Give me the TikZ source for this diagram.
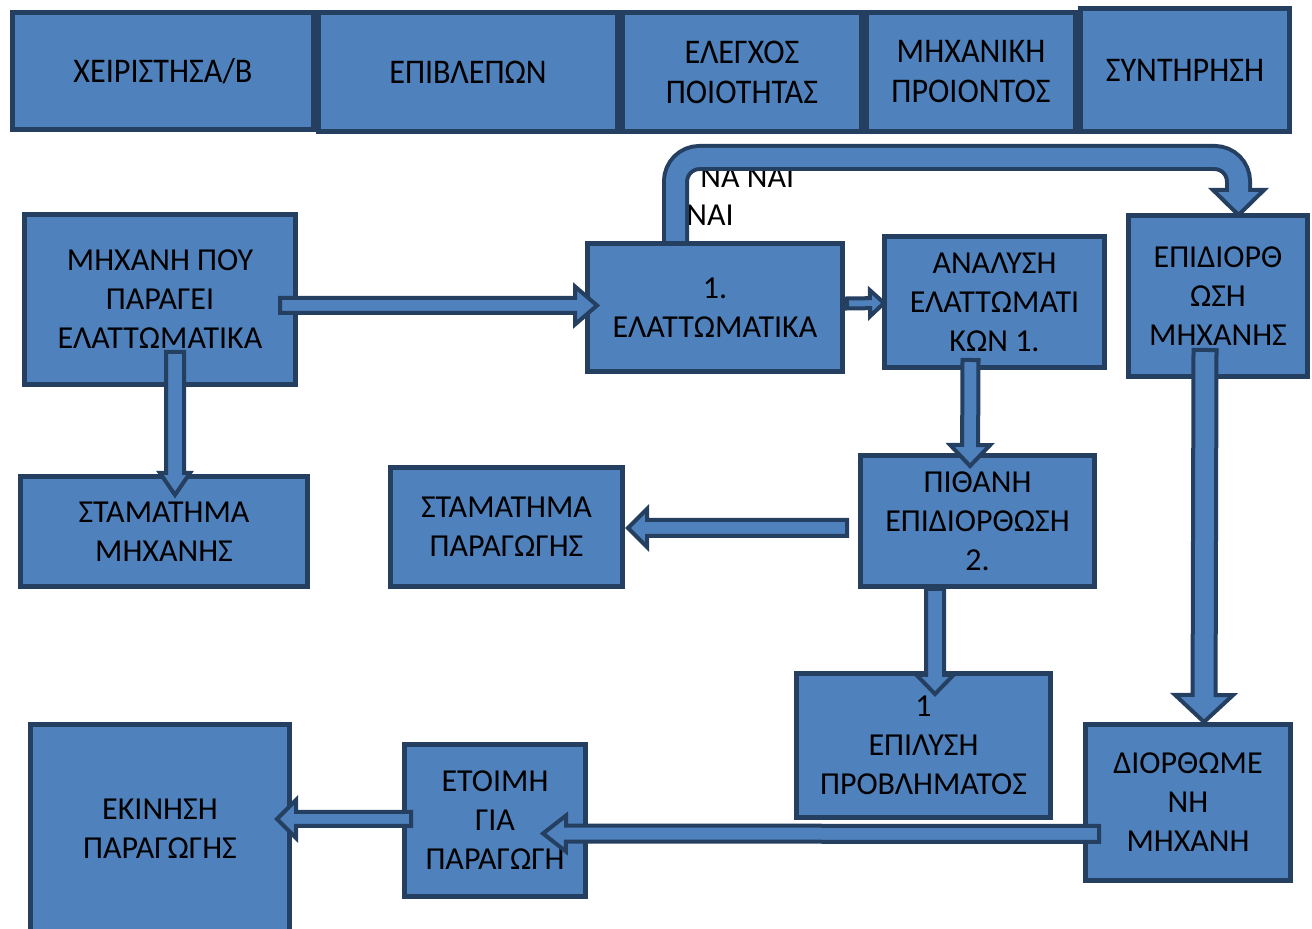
\documentclass[tikz,border=0pt]{standalone}
\usepackage{fontspec}
\setmainfont{Carlito}
\newfontfamily\headfont[FakeStretch=0.93]{Carlito}
\usetikzlibrary{calc}
\definecolor{boxfill}{HTML}{4F81BD}
\definecolor{boxline}{HTML}{243F60}
\tikzset{
  box/.style={draw=boxline, fill=boxfill, line width=2.5pt, inner sep=0pt,
    align=center, text=black, font=\fontsize{16}{19.5}\selectfont},
  headbox/.style={box, font=\headfont\fontsize{17.3}{20}\selectfont},
  % outer edges: left, top, right, bottom
  place/.style n args={4}{minimum width={(#3-#1-5)*0.5pt},
    minimum height={(#4-#2-5)*0.5pt}, at={({(#1+#3)/2},{(#2+#4)/2})}},
  blockarrow/.style={draw=boxline, fill=boxfill, line width=2pt, line join=miter},
  label/.style={font=\fontsize{16}{19.5}\selectfont, inner sep=0pt, anchor=base west},
}
% wide outlined arrow: start, tip, half shaft, half head, head length
\newcommand\blockarrow[5]{%
  \path #1 coordinate (ba-s) #2 coordinate (ba-t);
  \path ($(ba-t)!#5!(ba-s)$) coordinate (ba-h);
  \draw[blockarrow] ($(ba-s)!#3!90:(ba-t)$) -- ($(ba-h)!#3!90:(ba-t)$)
    -- ($(ba-h)!#4!90:(ba-t)$) -- (ba-t) -- ($(ba-h)!#4!-90:(ba-t)$)
    -- ($(ba-h)!#3!-90:(ba-t)$) -- ($(ba-s)!#3!-90:(ba-t)$) -- cycle;}
\begin{document}
\begin{tikzpicture}[x=0.5pt, y=-0.5pt]
\useasboundingbox (0,0) rectangle (1312,929);

% header row
\node[headbox, place={10}{10}{316}{132}] (h1) {ΧΕΙΡΙΣΤΗΣΑ/Β};
\node[headbox, place={316}{10}{620}{134}] (h2) {ΕΠΙΒΛΕΠΩΝ};
\node[headbox, place={620}{10}{864}{134}] (h3) {ΕΛΕΓΧΟΣ\\ΠΟΙΟΤΗΤΑΣ};
\node[headbox, place={864}{10}{1078}{134}] (h4) {ΜΗΧΑΝΙΚΗ\\ΠΡΟΙΟΝΤΟΣ};
\node[headbox, place={1078}{6}{1292}{134}] (h5) {ΣΥΝΤΗΡΗΣΗ};

% process steps
\node[box, place={22}{212}{298}{387}] (m) {ΜΗΧΑΝΗ ΠΟΥ\\ΠΑΡΑΓΕΙ\\ΕΛΑΤΤΩΜΑΤΙΚΑ};
\node[box, place={18}{474}{310}{589}] (sm) {ΣΤΑΜΑΤΗΜΑ\\ΜΗΧΑΝΗΣ};
\node[box, place={585}{241}{845}{374}] (e1) {1.\\ΕΛΑΤΤΩΜΑΤΙΚΑ};
\node[box, place={882}{234}{1107}{370}] (an) {ΑΝΑΛΥΣΗ\\ΕΛΑΤΤΩΜΑΤΙ\\ΚΩΝ 1.};
\node[box, place={1126}{213}{1310}{379}] (ep) {ΕΠΙΔΙΟΡΘ\\ΩΣΗ\\ΜΗΧΑΝΗΣ};
\node[box, place={388}{465}{625}{589}] (sp) {ΣΤΑΜΑΤΗΜΑ\\ΠΑΡΑΓΩΓΗΣ};
\node[box, place={858}{453}{1097}{589}] (pi) {ΠΙΘΑΝΗ\\ΕΠΙΔΙΟΡΘΩΣΗ\\2.};
\node[box, place={794}{671}{1053}{820}] (el) {1\\ΕΠΙΛΥΣΗ\\ΠΡΟΒΛΗΜΑΤΟΣ};
\node[box, place={1083}{722}{1293}{883}] (di) {ΔΙΟΡΘΩΜΕ\\ΝΗ\\ΜΗΧΑΝΗ};
\node[box, place={28}{722}{292}{935}] (ek) {ΕΚΙΝΗΣΗ\\ΠΑΡΑΓΩΓΗΣ};
\node[box, place={402}{742}{588}{899}] (et) {ΕΤΟΙΜΗ\\ΓΙΑ\\ΠΑΡΑΓΩΓΗ};

% straight connectors
\blockarrow{($(m.east)+(-18,6)$)}{($(e1.west)+(12,-2)$)}{3.75pt}{9.5pt}{11pt}
\blockarrow{($(m.south)+(15,-35)$)}{($(sm.north)+(11,21)$)}{4.5pt}{7.5pt}{11pt}
\blockarrow{($(e1.east)+(2,-4)$)}{($(an.west)+(2,1)$)}{2.5pt}{6.5pt}{7pt}
\blockarrow{($(an.south)+(-24,-10)$)}{($(pi.north)+(-7.5,13)$)}{4pt}{10pt}{10.5pt}
\blockarrow{($(pi.west)+(-11,7)$)}{($(sp.east)+(3,1)$)}{4pt}{9.5pt}{9.5pt}
\blockarrow{($(pi.south)+(-42.5,0)$)}{($(el.north)+(11.5,23)$)}{4.5pt}{9.25pt}{9.5pt}
\blockarrow{($(ep.south)+(-13,-29)$)}{($(di.north)+(16,0)$)}{5.75pt}{14.5pt}{13.5pt}
\blockarrow{($(di.west)+(16,31.5)$)}{($(et.east)+(-45,13)$)}{4pt}{9pt}{11.5pt}
\blockarrow{($(et.west)+(9,-1.5)$)}{($(ek.east)+(-15,-9.5)$)}{3.5pt}{9.5pt}{9.5pt}

% labels beside the loop
\node[label] (yes1) at (700,188) {ΝΑ ΝΑΙ};
\node[label] (yes2) at (686,226) {ΝΑΙ};

% rounded loop from step 1 to the machine repair
\coordinate (ct) at ($(e1.north)+(-39.5,0)$);
\coordinate (ch) at ($(ep.north)+(20.5,-23)$);
\coordinate (cp) at ($(ep.north)+(20.5,2)$);
\coordinate (lane) at (0,157.5);
\draw[boxline, line width=13.5pt, rounded corners=12pt]
  (ct) -- (ct |- lane) -- (ch |- lane) -- (ch);
\draw[blockarrow] ($(ch)+(-25.5,0)$) -- ($(ch)+(25.5,0)$) -- (cp) -- cycle;
\draw[boxfill, line width=9.5pt, rounded corners=12pt]
  (ct) -- (ct |- lane) -- (ch |- lane) -- ($(ch)+(0,3)$);
\end{tikzpicture}
\end{document}
